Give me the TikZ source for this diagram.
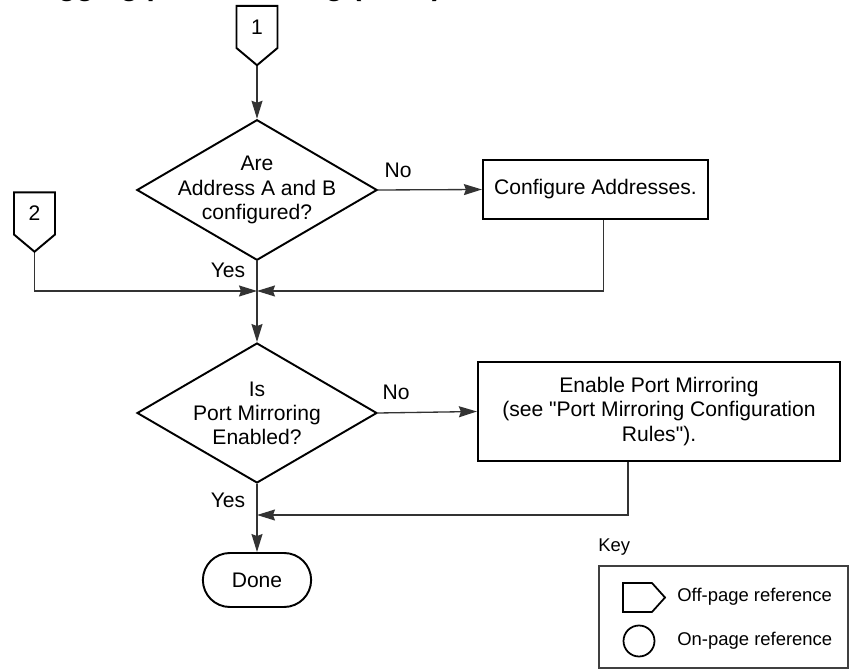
\documentclass[tikz,border=0pt]{standalone}
\usepackage{fontspec}
\setmainfont{Liberation Sans}[Ligatures=TeXOff]
\usetikzlibrary{arrows.meta,shapes.geometric,shapes.symbols,shapes.misc}
\tikzset{
  every node/.style={font=\fontsize{12}{13.7}\selectfont},
  decision/.style={diamond,draw,line width=1.1pt,aspect=1.71,minimum width=4.8cm,minimum height=2.8cm,align=center,inner sep=-0.12cm},
  process/.style={rectangle,draw,line width=1.3pt,align=center},
  offpage/.style={signal,signal to=south,signal pointer angle=100,draw,line width=1.1pt,minimum width=0.82cm,minimum height=0.94cm,inner sep=0pt},
  terminal/.style={rounded rectangle,draw,line width=1.1pt,minimum width=2.4cm,minimum height=1.08cm},
  keytext/.style={anchor=west,inner sep=0pt,font=\fontsize{10.5}{12}\selectfont},
  flow/.style={line width=0.75pt,draw=black!80},
  arr/.style={flow,-{Stealth[length=0.36cm,width=0.22cm,inset=0.04cm]}}
}
\begin{document}
\begin{tikzpicture}[x=0.02cm,y=-0.02cm]
  \useasboundingbox (0,0) rectangle (851,671);
  \node[anchor=base east,font=\fontsize{16.8}{20}\selectfont\bfseries] (title) at (448,-4) {Debugging port mirroring (cont.)};
  \node[offpage] (c1) at (257,27) {1};
  \node[offpage] (c2) at (34.5,213.5) {2};
  \node[decision] (d1) at (257,190) {Are\\Address A and B\\configured?};
  \node[process,minimum width=4.5cm,minimum height=1.18cm] (b1) at (595.5,189.5) {Configure Addresses.};
  \node[decision] (d2) at (257,413) {Is\\Port Mirroring\\Enabled?};
  \node[process,minimum width=7.24cm,minimum height=1.98cm] (b2) at (659,411.5) {Enable Port Mirroring\\(see "Port Mirroring Configuration\\Rules").};
  \node[terminal] (done) at (257,580) {Done};
  \coordinate (j1) at (257,291);
  \coordinate (j2) at (257,515);
  \node (no1) at (398,170) {No};
  \node (yes1) at (228,270) {Yes};
  \node (no2) at (396,392) {No};
  \node (yes2) at (228,500) {Yes};
  \draw[arr] (c1.south) -- (d1.north);
  \draw[arr] (d1.east) -- (b1.west);
  \draw[arr] ([xshift=0.16cm]b1.south) |- (j1);
  \draw[arr] (c2.south) |- (j1);
  \draw[arr] (d1.south) -- (d2.north);
  \draw[arr] (d2.east) -- (b2.west);
  \draw[arr] ([xshift=-0.62cm]b2.south) |- (j2);
  \draw[arr] (d2.south) -- (done.north);
  \node[keytext,anchor=base west] (keytitle) at (598,551) {Key};
  \node[draw=black!75,line width=0.8pt,minimum width=4.98cm,minimum height=2.04cm] (key) at (723.5,617) {};
  \node[signal,signal to=east,signal pointer angle=96,draw,line width=1pt,minimum width=0.84cm,minimum height=0.58cm,inner sep=0pt] (keyoff) at (637.5,597.5) {};
  \node[circle,draw,line width=1pt,minimum size=0.62cm,inner sep=0pt] (keyon) at (639,641) {};
  \node[keytext] (offtext) at (677,597) {Off-page reference};
  \node[keytext] (ontext) at (677,641) {On-page reference};
\end{tikzpicture}
\end{document}
